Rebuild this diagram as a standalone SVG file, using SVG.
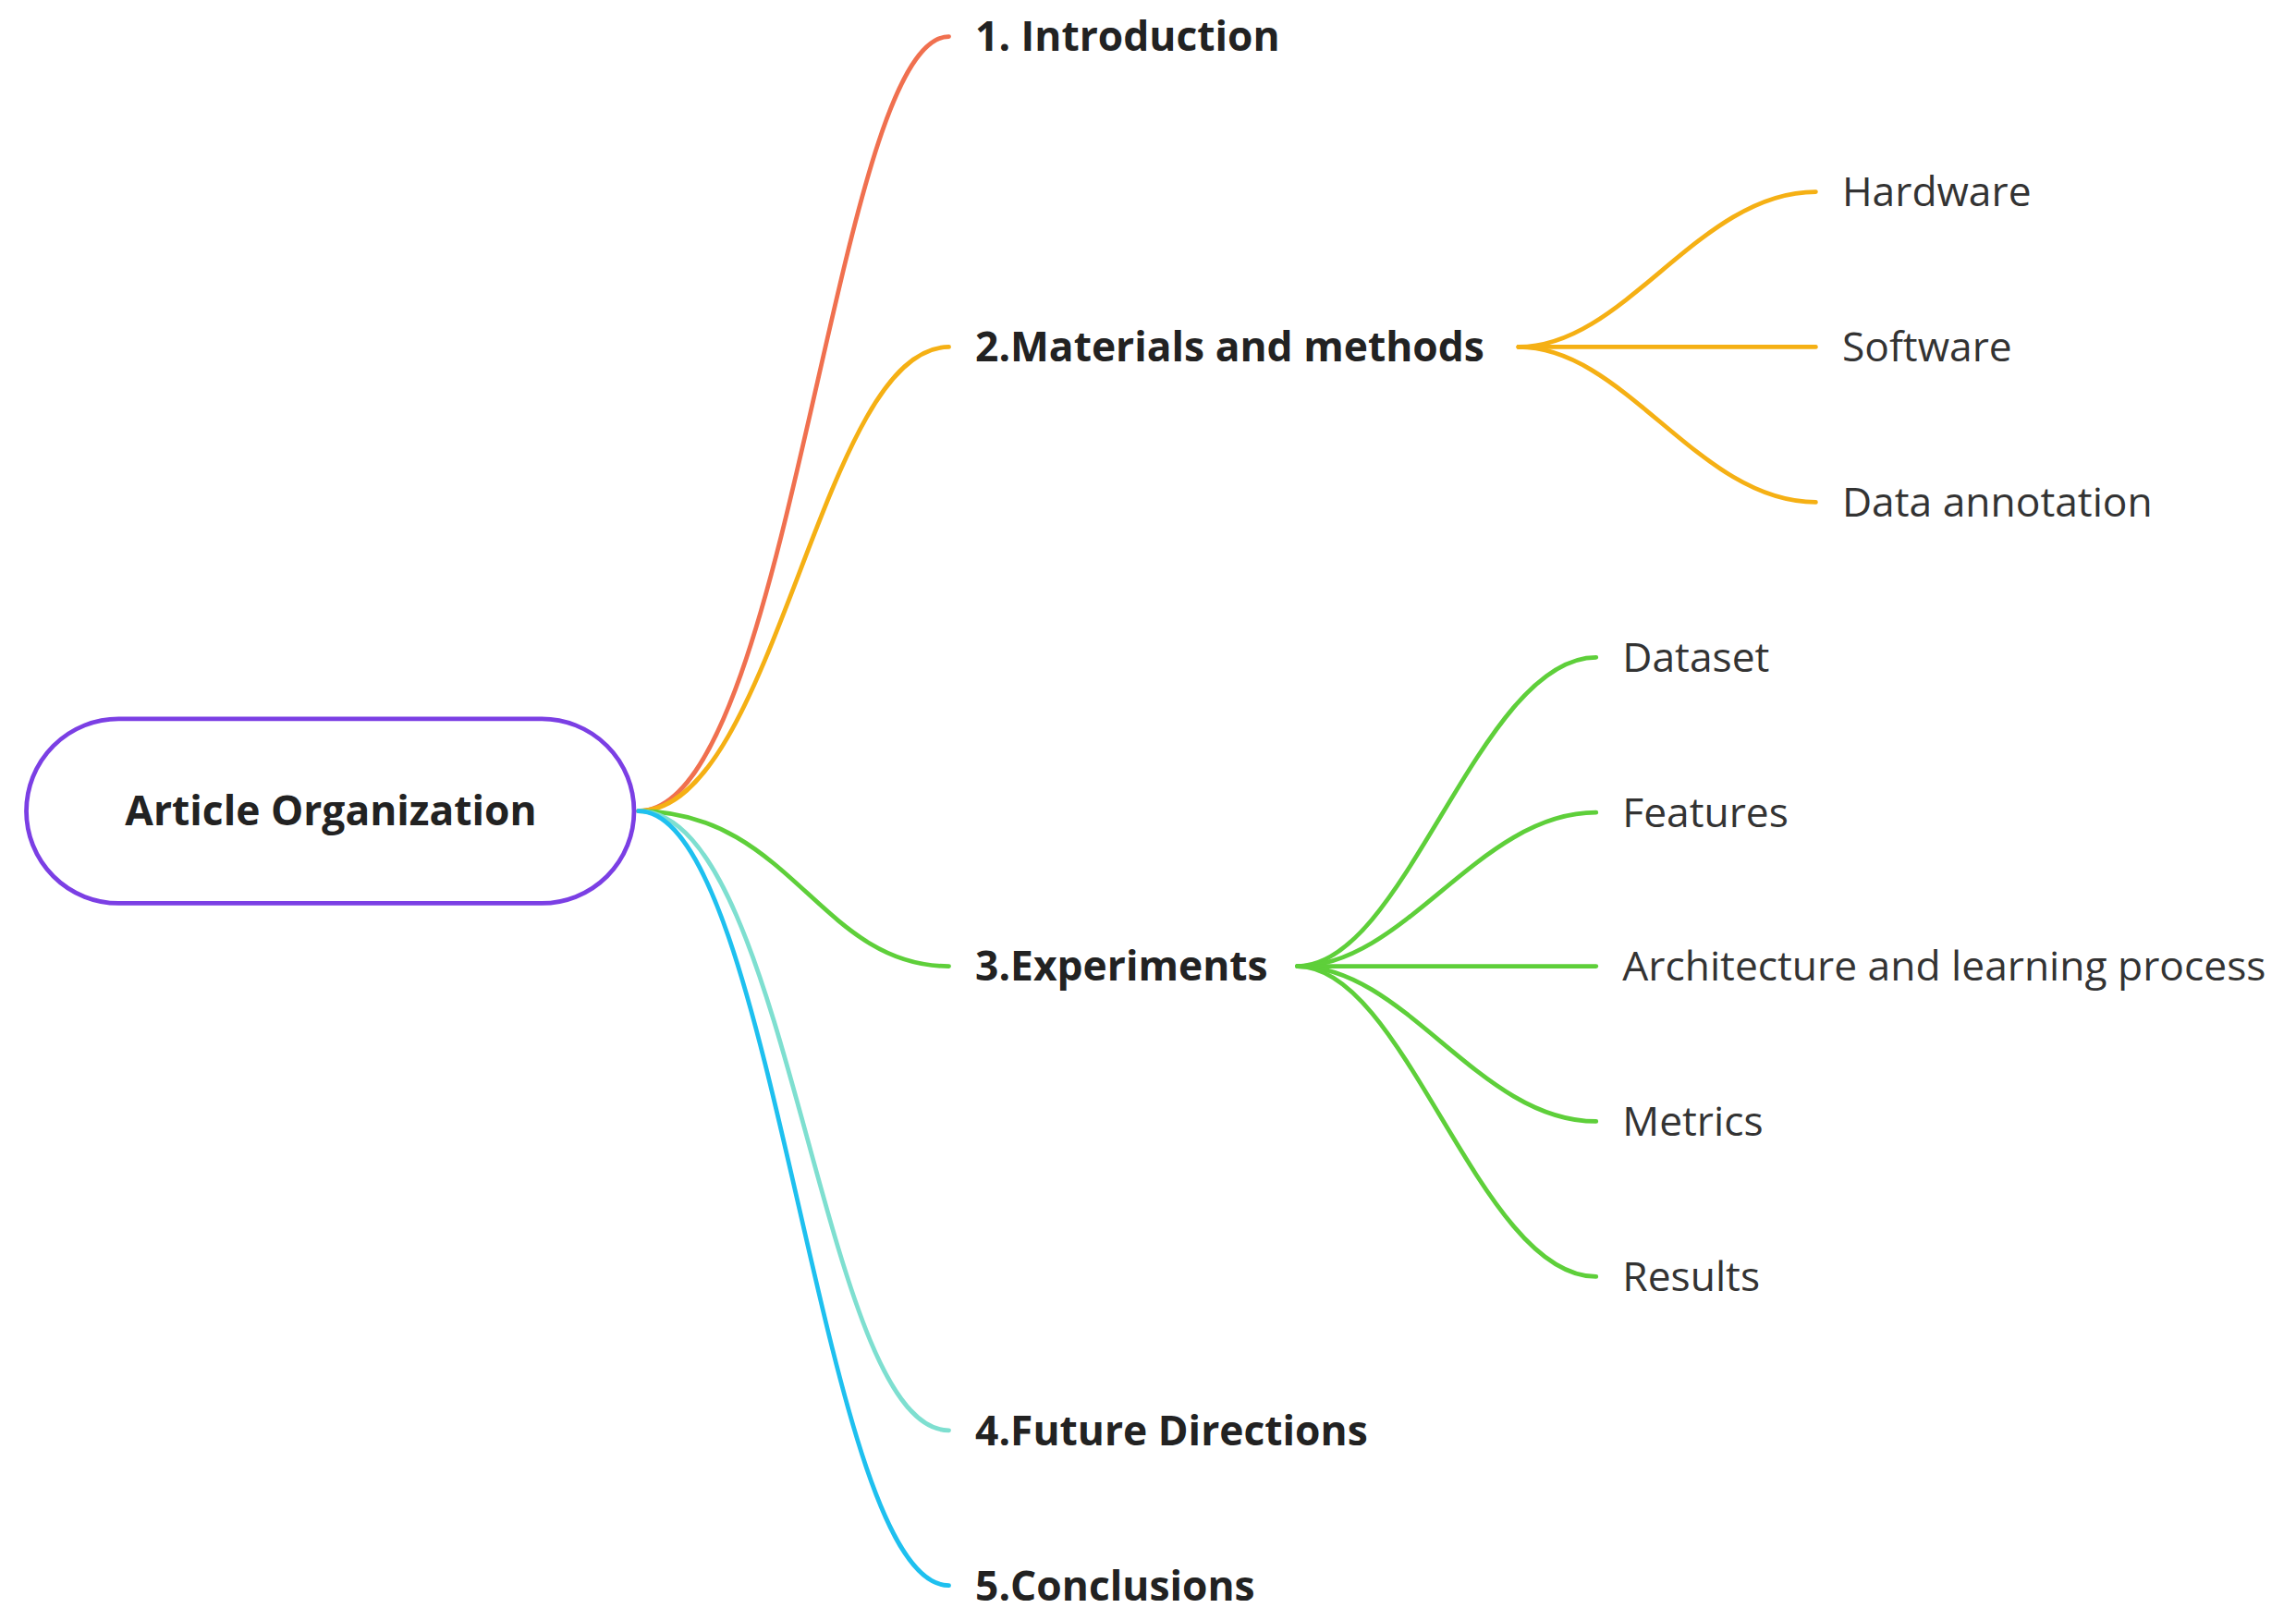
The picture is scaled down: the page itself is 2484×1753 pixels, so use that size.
<svg xmlns="http://www.w3.org/2000/svg" width="2484" height="1753" viewBox="0 0 2484 1753">
<style>
.c{fill:none;stroke-width:3;stroke-linecap:round}
.l1{font-family:"Open Sans","Noto Sans",sans-serif;font-weight:bold;font-size:28px;fill:#222}
.l2{font-family:"Open Sans","Noto Sans",sans-serif;font-size:28px;fill:#333}
</style>
<rect width="2484" height="1753" fill="#fff"/>
<g transform="scale(1.5842)">
<g id="connectors">
<path class="c" stroke="#f0704f" d="M436 554 C540 554 570 25 648 25"/>
<path class="c" stroke="#f5b014" d="M436 554 C530 554 560 237 648 237"/>
<path class="c" stroke="#5ecf3a" d="M436 554 C540 554 560 660 648 660"/>
<path class="c" stroke="#7edfd0" d="M436 554 C540 554 560 977 648 977"/>
<path class="c" stroke="#1ec0ef" d="M436 554 C530 554 560 1083 648 1083"/>
<path class="c" stroke="#f5b014" d="M1037 237 C1110 237 1160 131 1240 131"/>
<path class="c" stroke="#f5b014" d="M1037 237 L1240 237"/>
<path class="c" stroke="#f5b014" d="M1037 237 C1110 237 1160 343 1240 343"/>
<path class="c" stroke="#5ecf3a" d="M886 660 C960 660 1010 449 1090 449"/>
<path class="c" stroke="#5ecf3a" d="M886 660 C960 660 1010 555 1090 555"/>
<path class="c" stroke="#5ecf3a" d="M886 660 L1090 660"/>
<path class="c" stroke="#5ecf3a" d="M886 660 C960 660 1010 766 1090 766"/>
<path class="c" stroke="#5ecf3a" d="M886 660 C960 660 1010 872 1090 872"/>
</g>
<g id="root"><rect x="18" y="491" width="415" height="126" rx="63" fill="#fff" stroke="#7b3fe4" stroke-width="3"/>
<text class="l1" x="226" y="564" text-anchor="middle">Article Organization</text></g>
<g id="n1"><text class="l1" x="666" y="35">1. Introduction</text></g>
<g id="n2"><text class="l1" x="666" y="247">2.Materials and methods</text></g>
<g id="n3"><text class="l1" x="666" y="670">3.Experiments</text></g>
<g id="n4"><text class="l1" x="666" y="987">4.Future Directions</text></g>
<g id="n5"><text class="l1" x="666" y="1093">5.Conclusions</text></g>
<g id="n21"><text class="l2" x="1258" y="141">Hardware</text></g>
<g id="n22"><text class="l2" x="1258" y="247">Software</text></g>
<g id="n23"><text class="l2" x="1258" y="353">Data annotation</text></g>
<g id="n31"><text class="l2" x="1108" y="459">Dataset</text></g>
<g id="n32"><text class="l2" x="1108" y="565">Features</text></g>
<g id="n33"><text class="l2" x="1108" y="670">Architecture and learning process</text></g>
<g id="n34"><text class="l2" x="1108" y="776">Metrics</text></g>
<g id="n35"><text class="l2" x="1108" y="882">Results</text></g>
</g>
</svg>
